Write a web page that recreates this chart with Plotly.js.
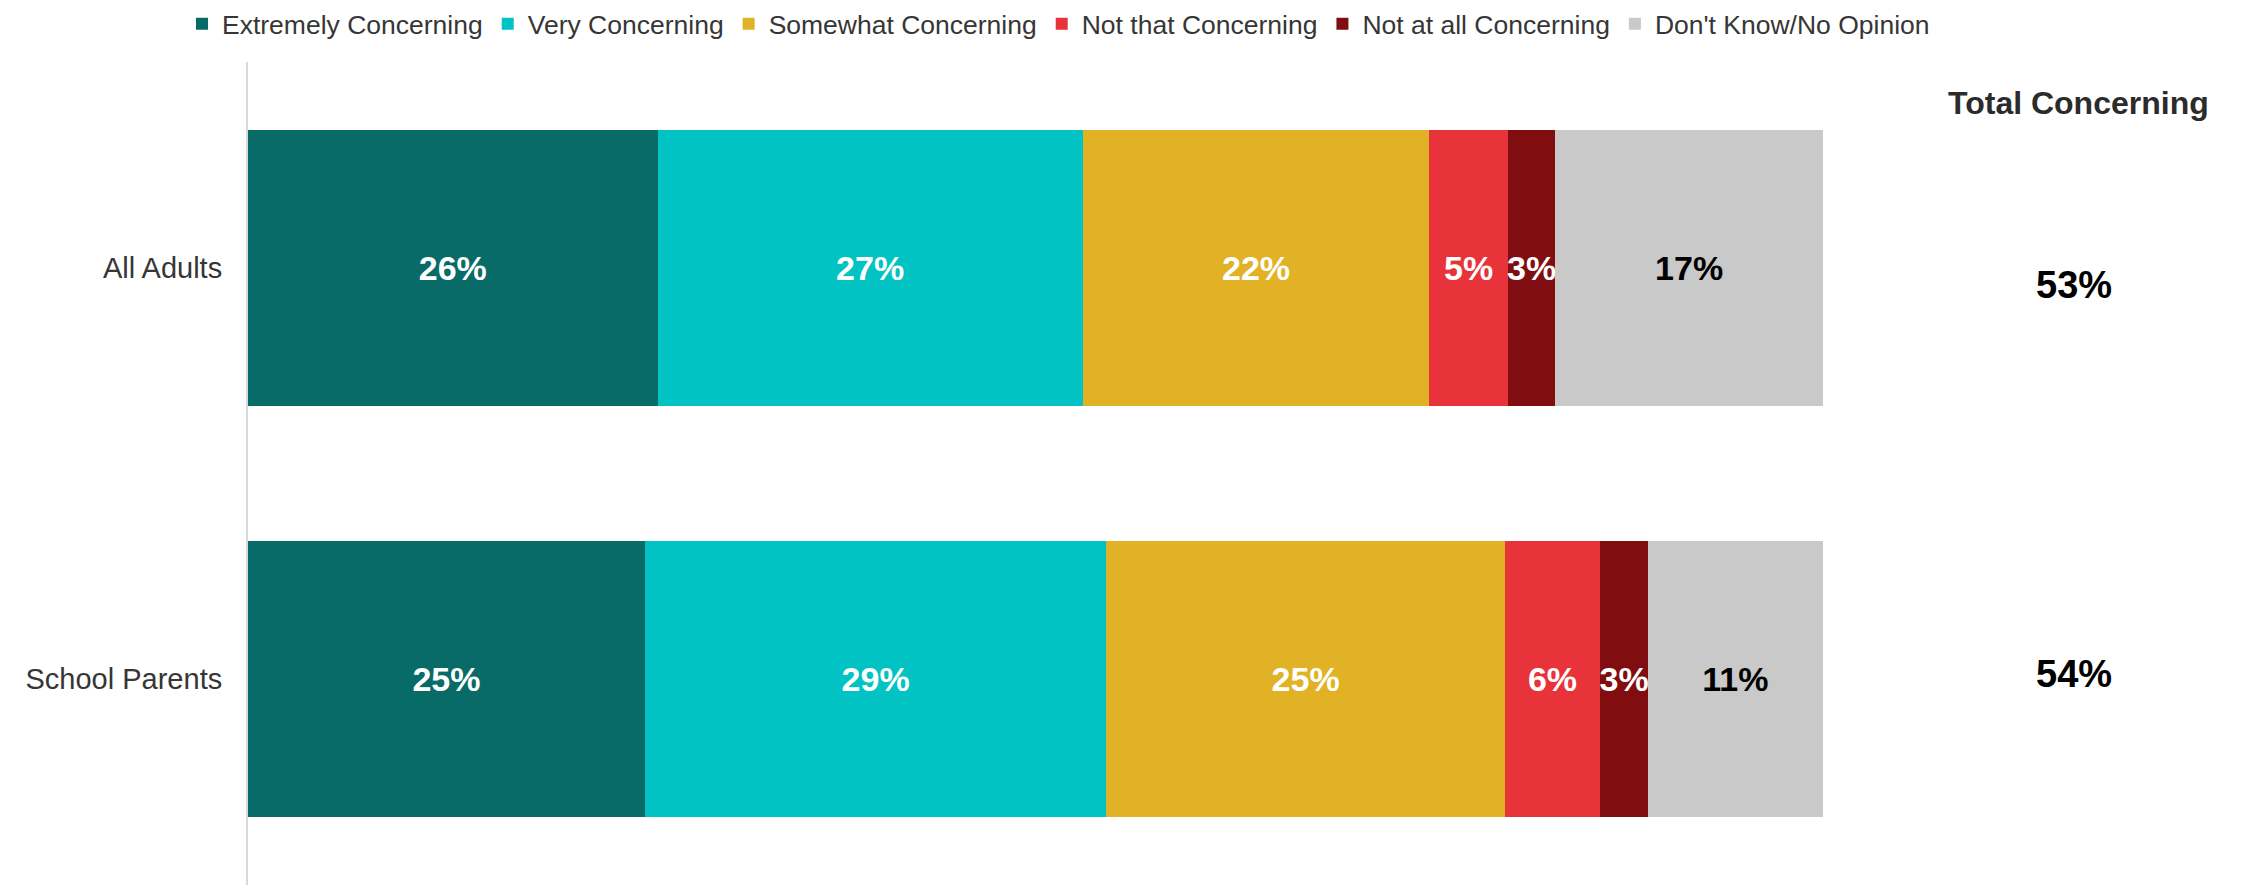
<!DOCTYPE html>
<html>
<head>
<meta charset="utf-8">
<script src="https://cdn.plot.ly/plotly-3.0.1.min.js"></script>
<style>
  html, body { margin: 0; padding: 0; background: #ffffff; }
  #chart { width: 2244px; height: 885px; }
</style>
</head>
<body>
<div id="chart"></div>
<script>
// ---- Data ----
const categories = ['All Adults', 'School Parents'];
const seriesNames = ['Extremely Concerning', 'Very Concerning', 'Somewhat Concerning', 'Not that Concerning', 'Not at all Concerning', "Don't Know/No Opinion"];
const extremely = [26, 25.2];
const very = [27, 29.3];
const somewhat = [22, 25.3];
const notThat = [5, 6.05];
const notAtAll = [3, 3.04];
const dontKnow = [17, 11.1];
const totalConcerning = [53, 54];
const totalHeader = 'Total Concerning';

// ---- Styles ----
const FONT = 'Liberation Sans, Arial, Helvetica, sans-serif';
const colors = ['#096B67', '#02C3C3', '#E1B225', '#E8333A', '#800E10', '#C9C9C9'];
const labelColors = ['#ffffff', '#ffffff', '#ffffff', '#ffffff', '#ffffff', '#000000'];
const seriesValues = [extremely, very, somewhat, notThat, notAtAll, dontKnow];

const traces = seriesValues.map((vals, i) => ({
  type: 'bar',
  orientation: 'h',
  name: seriesNames[i],
  y: categories,
  x: vals,
  text: vals.map(v => Math.round(v) + '%'),
  textposition: 'inside',
  insidetextanchor: 'middle',
  constraintext: 'none',
  textangle: 0,
  textfont: { family: FONT, size: 34, color: labelColors[i], weight: 'bold' },
  marker: { color: colors[i], line: { width: 0 } },
  hoverinfo: 'none'
}));

const totalShift = [-17, 5];
const annotations = [{
  xref: 'paper', yref: 'paper',
  x: 1.162, y: 0.950,
  xanchor: 'center', yanchor: 'middle',
  text: '<b>' + totalHeader + '</b>',
  showarrow: false,
  font: { family: FONT, size: 32, color: '#2b2b2b' }
}].concat(totalConcerning.map((t, i) => ({
  xref: 'paper', yref: 'y',
  x: 1.1594, y: categories[i],
  yshift: totalShift[i],
  xanchor: 'center', yanchor: 'middle',
  text: '<b>' + t + '%</b>',
  showarrow: false,
  font: { family: FONT, size: 38, color: '#000000' }
})));

const layout = {
  width: 2244,
  height: 885,
  margin: { l: 248, r: 421, t: 62, b: 0, pad: 0 },
  paper_bgcolor: '#ffffff',
  plot_bgcolor: '#ffffff',
  barmode: 'stack',
  bargap: 0.33,
  font: { family: FONT, color: '#3a3a3a' },
  showlegend: true,
  legend: {
    orientation: 'h',
    xref: 'paper', yref: 'paper',
    x: -0.0419, y: 1.0753, xanchor: 'left', yanchor: 'top',
    font: { family: FONT, size: 26.5, color: '#363636' },
    traceorder: 'normal',
    bgcolor: 'rgba(0,0,0,0)'
  },
  xaxis: {
    range: [0, 100],
    showgrid: false, zeroline: false, showline: false,
    showticklabels: false, ticks: '', fixedrange: true
  },
  yaxis: {
    autorange: 'reversed',
    showgrid: false, zeroline: false,
    showline: true, linecolor: '#d9d9d9', linewidth: 2,
    ticks: '',
    ticklabelstandoff: 18,
    tickfont: { family: FONT, size: 29, color: '#363636' },
    fixedrange: true
  },
  annotations: annotations,
  hovermode: false
};

Plotly.newPlot('chart', traces, layout, { displayModeBar: false, staticPlot: true });
</script>
</body>
</html>
